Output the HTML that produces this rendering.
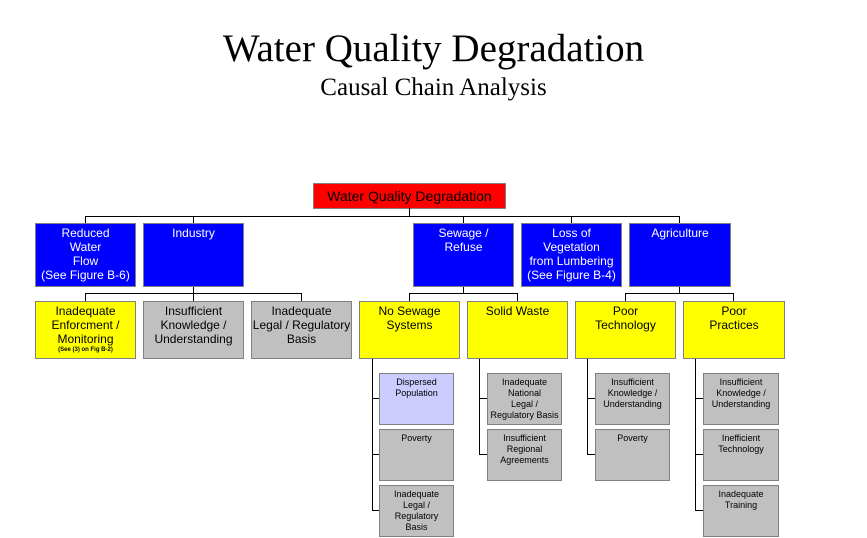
<!DOCTYPE html>
<html><head><style>
body{margin:0;width:867px;height:538px;background:#fff;position:relative;overflow:hidden;font-family:"Liberation Sans",sans-serif}
.b{position:absolute;box-sizing:border-box;border:1px solid #808080;text-align:center;font-size:12px;line-height:14px;padding-top:2px}
.bl{background:#0000ff;color:#fff}
.y{background:#ffff00;color:#000}
.g{background:#c0c0c0;color:#000}
.s{font-size:9px;line-height:11px;padding-top:3px}
.l{position:absolute;background:#000}
.t{position:absolute;left:0;width:867px;text-align:center;font-family:"Liberation Serif",serif;color:#000}
</style></head><body>
<div class="t" style="top:27px;font-size:39px;line-height:44px">Water Quality Degradation</div>
<div class="t" style="top:74px;font-size:25px;line-height:28px">Causal Chain Analysis</div>

<div class="b" style="left:313px;top:183px;width:193px;height:26px;background:#ff0000;color:#000;font-size:14px;line-height:18px;padding-top:3px">Water Quality Degradation</div>

<div class="l" style="left:409px;top:208px;width:1px;height:8px"></div>
<div class="l" style="left:85px;top:216px;width:595px;height:1px"></div>
<div class="l" style="left:85px;top:216px;width:1px;height:7px"></div>
<div class="l" style="left:193px;top:216px;width:1px;height:7px"></div>
<div class="l" style="left:463px;top:216px;width:1px;height:7px"></div>
<div class="l" style="left:571px;top:216px;width:1px;height:7px"></div>
<div class="l" style="left:679px;top:216px;width:1px;height:7px"></div>

<div class="b bl" style="left:35px;top:223px;width:101px;height:64px">Reduced<br>Water<br>Flow<br>(See Figure B-6)</div>
<div class="b bl" style="left:143px;top:223px;width:101px;height:64px">Industry</div>
<div class="b bl" style="left:413px;top:223px;width:101px;height:64px">Sewage /<br>Refuse</div>
<div class="b bl" style="left:521px;top:223px;width:101px;height:64px">Loss of<br>Vegetation<br>from Lumbering<br>(See Figure B-4)</div>
<div class="b bl" style="left:629px;top:223px;width:102px;height:64px">Agriculture</div>

<div class="l" style="left:193px;top:287px;width:1px;height:6px"></div>
<div class="l" style="left:85px;top:293px;width:217px;height:1px"></div>
<div class="l" style="left:85px;top:293px;width:1px;height:8px"></div>
<div class="l" style="left:193px;top:293px;width:1px;height:8px"></div>
<div class="l" style="left:301px;top:293px;width:1px;height:8px"></div>
<div class="l" style="left:463px;top:287px;width:1px;height:6px"></div>
<div class="l" style="left:409px;top:293px;width:109px;height:1px"></div>
<div class="l" style="left:409px;top:293px;width:1px;height:8px"></div>
<div class="l" style="left:517px;top:293px;width:1px;height:8px"></div>
<div class="l" style="left:679px;top:287px;width:1px;height:6px"></div>
<div class="l" style="left:625px;top:293px;width:109px;height:1px"></div>
<div class="l" style="left:625px;top:293px;width:1px;height:8px"></div>
<div class="l" style="left:733px;top:293px;width:1px;height:8px"></div>

<div class="b y" style="left:35px;top:301px;width:101px;height:58px">Inadequate<br>Enforcment /<br>Monitoring<br><span style="font-size:6px;line-height:8px;font-weight:bold;display:block">(See (3) on Fig B-2)</span></div>
<div class="b g" style="left:143px;top:301px;width:101px;height:58px">Insufficient<br>Knowledge /<br>Understanding</div>
<div class="b g" style="left:251px;top:301px;width:101px;height:58px">Inadequate<br>Legal / Regulatory<br>Basis</div>
<div class="b y" style="left:359px;top:301px;width:101px;height:58px">No Sewage<br>Systems</div>
<div class="b y" style="left:467px;top:301px;width:101px;height:58px">Solid Waste</div>
<div class="b y" style="left:575px;top:301px;width:101px;height:58px">Poor<br>Technology</div>
<div class="b y" style="left:683px;top:301px;width:102px;height:58px">Poor<br>Practices</div>

<div class="l" style="left:372px;top:359px;width:1px;height:152px"></div>
<div class="l" style="left:372px;top:398px;width:7px;height:1px"></div>
<div class="l" style="left:372px;top:454px;width:7px;height:1px"></div>
<div class="l" style="left:372px;top:510px;width:7px;height:1px"></div>
<div class="l" style="left:479px;top:359px;width:1px;height:96px"></div>
<div class="l" style="left:479px;top:398px;width:8px;height:1px"></div>
<div class="l" style="left:479px;top:454px;width:8px;height:1px"></div>
<div class="l" style="left:587px;top:359px;width:1px;height:96px"></div>
<div class="l" style="left:587px;top:398px;width:8px;height:1px"></div>
<div class="l" style="left:587px;top:454px;width:8px;height:1px"></div>
<div class="l" style="left:695px;top:359px;width:1px;height:152px"></div>
<div class="l" style="left:695px;top:398px;width:8px;height:1px"></div>
<div class="l" style="left:695px;top:454px;width:8px;height:1px"></div>
<div class="l" style="left:695px;top:510px;width:8px;height:1px"></div>

<div class="b s" style="left:379px;top:373px;width:75px;height:52px;background:#ccccff">Dispersed<br>Population</div>
<div class="b g s" style="left:379px;top:429px;width:75px;height:52px">Poverty</div>
<div class="b g s" style="left:379px;top:485px;width:75px;height:52px">Inadequate<br>Legal /<br>Regulatory<br>Basis</div>
<div class="b g s" style="left:487px;top:373px;width:75px;height:52px">Inadequate<br>National<br>Legal /<br>Regulatory Basis</div>
<div class="b g s" style="left:487px;top:429px;width:75px;height:52px">Insufficient<br>Regional<br>Agreements</div>
<div class="b g s" style="left:595px;top:373px;width:75px;height:52px">Insufficient<br>Knowledge /<br>Understanding</div>
<div class="b g s" style="left:595px;top:429px;width:75px;height:52px">Poverty</div>
<div class="b g s" style="left:703px;top:373px;width:76px;height:52px">Insufficient<br>Knowledge /<br>Understanding</div>
<div class="b g s" style="left:703px;top:429px;width:76px;height:52px">Inefficient<br>Technology</div>
<div class="b g s" style="left:703px;top:485px;width:76px;height:52px">Inadequate<br>Training</div>
</body></html>
